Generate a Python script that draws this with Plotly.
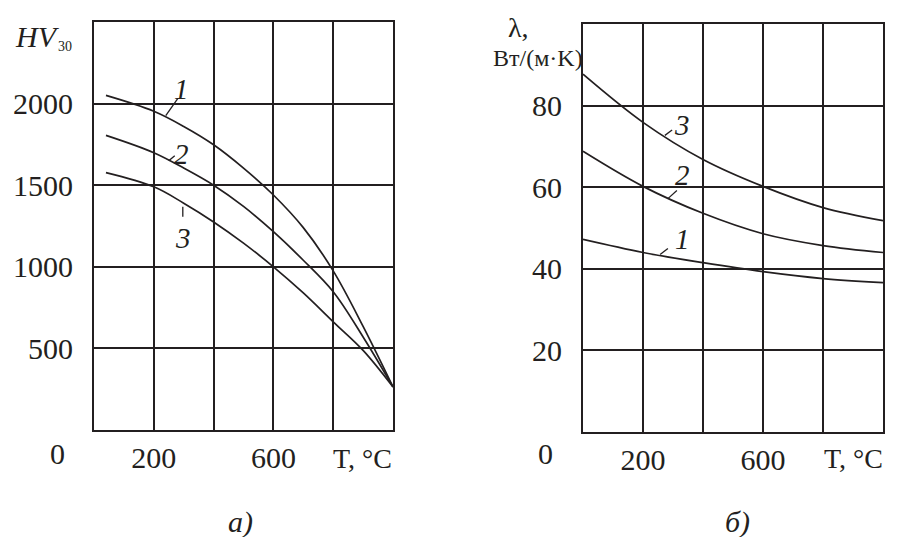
import plotly.graph_objects as go

# ---- data (panel a: hardness HV30 vs temperature) ----
T_hv = [40, 200, 300, 400, 500, 600, 700, 800, 900, 1000]
hv_1 = [2050, 1953, 1860, 1748, 1605, 1440, 1240, 975, 635, 264]
hv_2 = [1805, 1699, 1605, 1500, 1370, 1215, 1040, 847, 570, 264]
hv_3 = [1577, 1490, 1390, 1275, 1145, 1000, 840, 663, 488, 264]

# ---- data (panel b: thermal conductivity vs temperature) ----
T_lam = [0, 200, 400, 600, 800, 1000]
lam_1 = [47.2, 44.0, 41.5, 39.3, 37.6, 36.6]
lam_2 = [68.8, 60.2, 53.6, 48.6, 45.7, 44.0]
lam_3 = [87.7, 75.9, 66.8, 60.2, 55.0, 51.8]

x_tickvals = [200, 400, 600, 800]
x_ticktext = ["200", "", "600", ""]
hv_ticks = [500, 1000, 1500, 2000]
lam_ticks = [20, 40, 60, 80]

INK = "#231f20"
FONT = "Liberation Serif"
W, H = 899, 537

fig = go.Figure()
for ys in (hv_1, hv_2, hv_3):
    fig.add_trace(go.Scatter(x=T_hv, y=ys, mode="lines", line=dict(color=INK, width=1.7, shape="spline", smoothing=1.0),
                             xaxis="x", yaxis="y", showlegend=False, hoverinfo="skip"))
for ys in (lam_1, lam_2, lam_3):
    fig.add_trace(go.Scatter(x=T_lam, y=ys, mode="lines", line=dict(color=INK, width=1.7, shape="spline", smoothing=1.0),
                             xaxis="x2", yaxis="y2", showlegend=False, hoverinfo="skip"))

axis_common = dict(showgrid=True, gridcolor=INK, gridwidth=2, showline=True, linecolor=INK, linewidth=2,
                   mirror=True, zeroline=False, ticks="", tickfont=dict(family=FONT, size=30, color=INK),
                   fixedrange=True)

fig.update_layout(
    width=W, height=H, margin=dict(l=0, r=0, t=0, b=0),
    paper_bgcolor="white", plot_bgcolor="white",
    xaxis=dict(domain=[94 / W, 393 / W], range=[0, 1000], tickvals=x_tickvals, ticktext=x_ticktext,
               anchor="y", ticklabelstandoff=0, **axis_common),
    yaxis=dict(domain=[1 - 430 / H, 1 - 22 / H], range=[0, 2500], tickvals=hv_ticks,
               anchor="x", ticklabelstandoff=13, **axis_common),
    xaxis2=dict(domain=[583 / W, 883 / W], range=[0, 1000], tickvals=x_tickvals, ticktext=x_ticktext,
                anchor="y2", ticklabelstandoff=0, **axis_common),
    yaxis2=dict(domain=[1 - 432 / H, 1 - 24 / H], range=[0, 100], tickvals=lam_ticks,
                anchor="x2", ticklabelstandoff=13, **axis_common),
)

def txt(x, y, s, size=30, italic=False, xref="paper", yref="paper", xanchor="center", yanchor="middle"):
    fig.add_annotation(x=x, y=y, xref=xref, yref=yref, text=s, showarrow=False,
                       font=dict(family=FONT, size=size, color=INK, style="italic" if italic else "normal"),
                       xanchor=xanchor, yanchor=yanchor)

# curve labels with leader lines (data coordinates)
labels_a = [("1", 293, 2092, (280, 2031, 240, 1926)),
            ("2", 293, 1693, (270, 1681, 250, 1650)),
            ("3", 297, 1178, (297, 1368, 297, 1307))]
for s, tx, ty, (x0, y0, x1, y1) in labels_a:
    txt(tx, ty, s, size=29, italic=True, xref="x", yref="y")
    fig.add_shape(type="line", x0=x0, y0=y0, x1=x1, y1=y1, xref="x", yref="y", line=dict(color=INK, width=1.3))

labels_b = [("3", 330, 75.2, (297, 74.0, 273, 72.7)),
            ("2", 330, 63.1, (313, 59.2, 283, 57.2)),
            ("1", 330, 47.2, (283, 45.0, 257, 43.5))]
for s, tx, ty, (x0, y0, x1, y1) in labels_b:
    txt(tx, ty, s, size=29, italic=True, xref="x2", yref="y2")
    fig.add_shape(type="line", x0=x0, y0=y0, x1=x1, y1=y1, xref="x2", yref="y2", line=dict(color=INK, width=1.3))

def px(x, y):
    return x / W, 1 - y / H

# axis titles and extra texts
x, y = px(62, 36)
txt(x, y, "HV", size=30, italic=True, xanchor="right")
x, y = px(56, 47)
txt(x, y, "30", size=14, xanchor="left")
x, y = px(57, 453)
txt(x, y, "0")
x, y = px(394, 458)
txt(x, y, "T, °C", size=28, xanchor="right")
x, y = px(240, 522)
txt(x, y, "а)", italic=True)

x, y = px(518, 28)
txt(x, y, "λ,", size=28)
x, y = px(538, 58)
txt(x, y, "Вт/(м·K)", size=24)
x, y = px(545, 453)
txt(x, y, "0")
x, y = px(885, 458)
txt(x, y, "T, °C", size=28, xanchor="right")
x, y = px(737, 522)
txt(x, y, "б)", italic=True)

fig.write_html("out.html", config={"displayModeBar": False},
               post_script="document.body.style.margin='0px';")
